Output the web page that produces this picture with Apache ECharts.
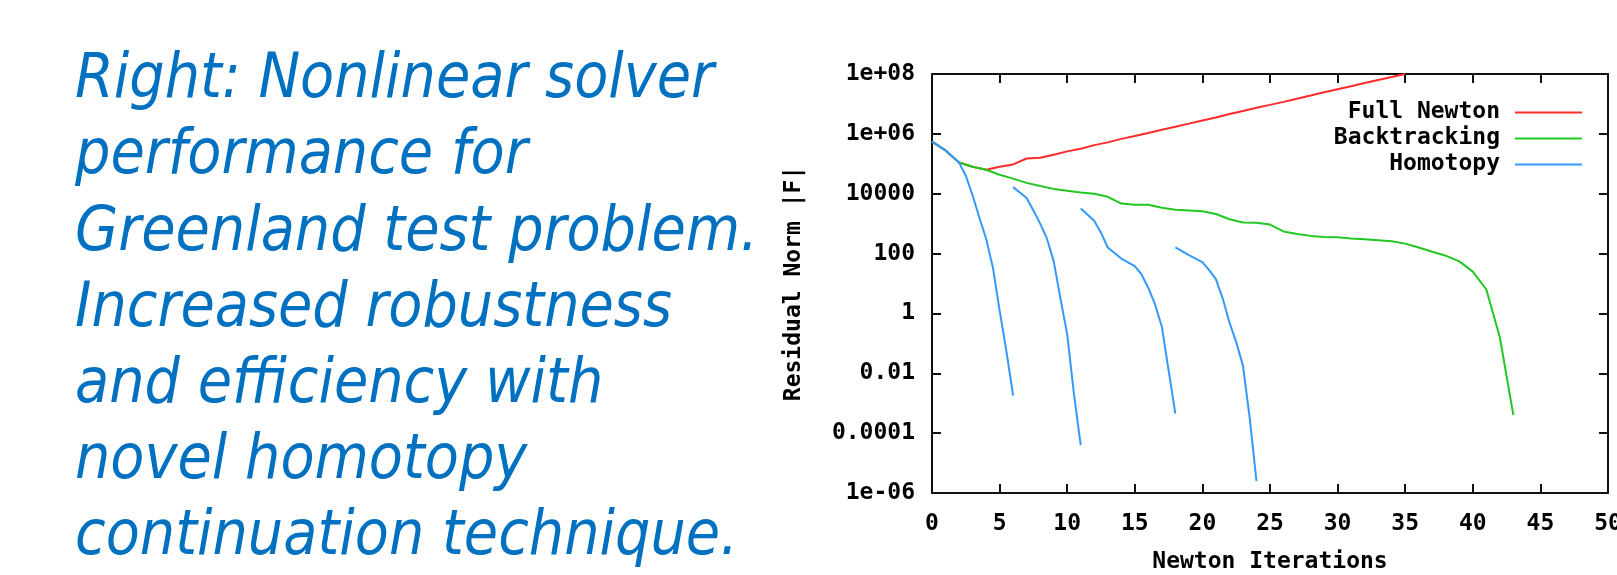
<!DOCTYPE html>
<html>
<head>
<meta charset="utf-8">
<script src="https://cdn.jsdelivr.net/npm/echarts@6/dist/echarts.min.js"></script>
<style>
html,body{margin:0;padding:0;background:#ffffff;}
#chart{width:1617px;height:575px;}
</style>
</head>
<body>
<div id="chart"></div>
<script>
// ---------- text ----------
const captionLines = [
  'Right: Nonlinear solver',
  'performance for',
  'Greenland test problem.',
  'Increased robustness',
  'and efficiency with',
  'novel homotopy',
  'continuation technique.'
];
const xAxisTitle = 'Newton Iterations';
const yAxisTitle = 'Residual Norm |F|';
const seriesNames = ['Full Newton', 'Backtracking', 'Homotopy'];

// ---------- tick labels ----------
const xTickLabels = ['0','5','10','15','20','25','30','35','40','45','50'];
const yTickLabels = ['1e-06','0.0001','0.01','1','100','10000','1e+06','1e+08'];

// ---------- data ----------
const fullNewtonIter = [0,1,2,3,4,5,6,7,8,9,10,11,12,13,14,15,16,17,18,19,20,21,22,23,24,25,26,27,28,29,30,31,32,33,34,35];
const fullNewtonNorm = [5.5e5,2.8e5,1.1e5,8.0e4,6.3e4,8.0e4,9.5e4,1.5e5,1.6e5,2.0e5,2.6e5,3.2e5,4.2e5,5.2e5,6.8e5,8.5e5,1.07e6,1.38e6,1.74e6,2.2e6,2.8e6,3.5e6,4.6e6,5.8e6,7.4e6,9.3e6,1.17e7,1.5e7,1.9e7,2.45e7,3.1e7,3.9e7,5.0e7,6.3e7,7.9e7,1.0e8];

const backtrackIter = [0,1,2,3,4,5,6,7,8,9,10,11,12,13,14,15,16,17,18,19,20,21,22,23,24,25,26,27,28,29,30,31,32,33,34,35,36,37,38,39,40,41,42,43];
const backtrackNorm = [5.5e5,2.8e5,1.1e5,8.0e4,6.3e4,4.3e4,3.2e4,2.3e4,1.8e4,1.45e4,1.26e4,1.1e4,1.0e4,7.9e3,4.7e3,4.3e3,4.3e3,3.4e3,2.9e3,2.75e3,2.6e3,2.1e3,1.4e3,1.1e3,1.07e3,930,550,450,390,360,350,320,300,280,260,215,160,115,85,55,25,6.3,0.16,4.0e-4];

const homotopy1Iter = [0,1,2,2.5,3,3.5,4,4.5,5,5.5,6];
const homotopy1Norm = [5.5e5,2.8e5,1.1e5,4.0e4,8.9e3,1.6e3,320,35,1.26,0.056,1.8e-3];
const homotopy2Iter = [6,7,7.5,8,8.5,9,9.5,10,10.5,11];
const homotopy2Norm = [1.66e4,7.2e3,2.75e3,1.0e3,320,56,3.2,0.2,2.0e-3,4.0e-5];
const homotopy3Iter = [11,12,12.5,13,14,15,15.5,16,16.5,17,17.5,18];
const homotopy3Norm = [3.2e3,1.26e3,500,160,68,38,20,7.1,2.0,0.36,0.0126,4.5e-4];
const homotopy4Iter = [18,19,20,20.5,21,21.5,22,22.5,23,23.5,24];
const homotopy4Norm = [160,89,52,28,14,3.2,0.5,0.11,0.018,3.2e-4,2.5e-6];

// ---------- build ----------
const zip = (xs, ys) => xs.map((x, i) => [x, ys[i]]);
const colors = {
  'Full Newton': '#ff2a2a',
  'Backtracking': '#22c822',
  'Homotopy': '#3399ff'
};
const monoFont = '"DejaVu Sans Mono", "Liberation Mono", monospace';
const tickFont = { fontFamily: monoFont, fontWeight: 'bold', fontSize: 23, color: '#000', lineHeight: 23 };

function lineSeries(name, data) {
  return {
    type: 'line', name: name, data: data,
    xAxisIndex: 0, yAxisIndex: 0,
    symbol: 'none', showSymbol: false, smooth: false,
    lineStyle: { color: colors[name], width: 2 },
    itemStyle: { color: colors[name] },
    emphasis: { disabled: true },
    z: 3
  };
}

const axisLineStyle = { show: true, onZero: false, lineStyle: { color: '#111', width: 2 } };

const chart = echarts.init(document.getElementById('chart'), null, { renderer: 'canvas' });

const legendBase = (name, top) => ({
  show: true,
  data: [{ name: name, icon: 'rect' }],
  right: 35,
  top: top,
  orient: 'vertical',
  align: 'right',
  padding: 0,
  itemWidth: 67,
  itemHeight: 2,
  selectedMode: false,
  textStyle: { fontFamily: monoFont, fontWeight: 'bold', fontSize: 23, color: '#000', lineHeight: 23, padding: [0, 10, 0, 0] }
});

chart.setOption({
  animation: false,
  backgroundColor: '#ffffff',
  grid: {
    left: 932, top: 74, width: 676, height: 419,
    containLabel: false,
    outerBoundsMode: 'none',
    show: false
  },
  legend: [
    legendBase(seriesNames[0], 101),
    legendBase(seriesNames[1], 127),
    legendBase(seriesNames[2], 153)
  ],
  xAxis: [
    {
      type: 'value', position: 'bottom', min: 0, max: 50, interval: 5,
      axisLine: axisLineStyle,
      axisTick: { show: true, inside: true, length: 9, lineStyle: { color: '#111', width: 2 } },
      axisLabel: { show: true, margin: 20, ...tickFont, formatter: v => xTickLabels[Math.round(v / 5)] },
      splitLine: { show: false },
      name: xAxisTitle, nameLocation: 'middle', nameGap: 58,
      nameTextStyle: { ...tickFont }
    },
    {
      type: 'value', position: 'top', min: 0, max: 50, interval: 5,
      axisLine: axisLineStyle,
      axisTick: { show: true, inside: true, length: 9, lineStyle: { color: '#111', width: 2 } },
      axisLabel: { show: false },
      splitLine: { show: false }
    }
  ],
  yAxis: [
    {
      type: 'log', logBase: 100, position: 'left', min: 1e-6, max: 1e8, splitNumber: 7,
      axisLine: axisLineStyle,
      axisTick: { show: true, inside: true, length: 9, lineStyle: { color: '#111', width: 2 } },
      axisLabel: {
        show: true, margin: 17, ...tickFont,
        formatter: v => yTickLabels[Math.round((Math.log10(v) + 6) / 2)]
      },
      splitLine: { show: false },
      name: yAxisTitle, nameLocation: 'middle', nameGap: 126, nameRotate: 90,
      nameTextStyle: { ...tickFont }
    },
    {
      type: 'log', logBase: 100, position: 'right', min: 1e-6, max: 1e8, splitNumber: 7,
      axisLine: axisLineStyle,
      axisTick: { show: true, inside: true, length: 9, lineStyle: { color: '#111', width: 2 } },
      axisLabel: { show: false },
      splitLine: { show: false }
    },
    {
      type: 'log', logBase: 10, position: 'left', min: 1e-6, max: 1e8, splitNumber: 14,
      axisLine: { show: false, onZero: false },
      axisTick: { show: true, inside: true, length: 5, lineStyle: { color: '#111', width: 2 } },
      axisLabel: { show: false },
      splitLine: { show: false }
    },
    {
      type: 'log', logBase: 10, position: 'right', min: 1e-6, max: 1e8, splitNumber: 14,
      axisLine: { show: false, onZero: false },
      axisTick: { show: true, inside: true, length: 5, lineStyle: { color: '#111', width: 2 } },
      axisLabel: { show: false },
      splitLine: { show: false }
    }
  ],
  series: [
    lineSeries('Full Newton', zip(fullNewtonIter, fullNewtonNorm)),
    lineSeries('Backtracking', zip(backtrackIter, backtrackNorm)),
    lineSeries('Homotopy', zip(homotopy1Iter, homotopy1Norm)),
    lineSeries('Homotopy', zip(homotopy2Iter, homotopy2Norm)),
    lineSeries('Homotopy', zip(homotopy3Iter, homotopy3Norm)),
    lineSeries('Homotopy', zip(homotopy4Iter, homotopy4Norm))
  ],
  graphic: [
    {
      type: 'text',
      left: 75,
      top: 43,
      silent: true,
      style: {
        text: captionLines.join('\n'),
        fontFamily: '"DejaVu Sans Condensed", "Liberation Sans", sans-serif',
        fontStyle: 'italic',
        fontSize: 62,
        lineHeight: 76.2,
        fill: '#0070c0'
      }
    }
  ]
});
</script>
</body>
</html>
